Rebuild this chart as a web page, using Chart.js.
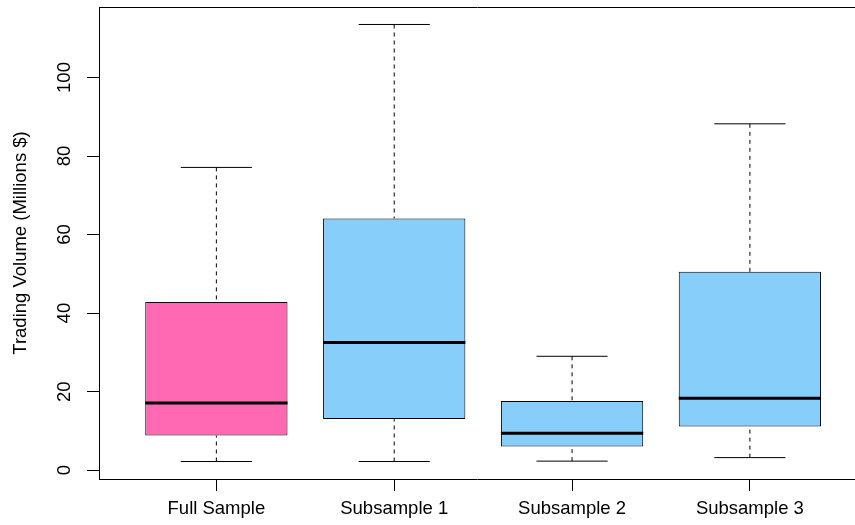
<!DOCTYPE html>
<html>
<head>
<meta charset="utf-8">
<title>Trading Volume</title>
<script src="https://cdn.jsdelivr.net/npm/chart.js@4.4.1/dist/chart.umd.min.js"></script>
<style>
  html, body { margin: 0; padding: 0; background: #fff; overflow: hidden; }
  canvas { display: block; }
</style>
</head>
<body>
<canvas id="chart" width="855" height="525"></canvas>
<script>
// Five-number summaries of trading volume (millions of dollars) per sample
const categories    = ['Full Sample', 'Subsample 1', 'Subsample 2', 'Subsample 3'];
const lowerWhisker  = [2.2, 2.2, 2.3, 3.2];
const firstQuartile = [8.8, 13.0, 6.0, 11.1];
const medians       = [17.1, 32.5, 9.4, 18.3];
const thirdQuartile = [42.8, 64.1, 17.6, 50.5];
const upperWhisker  = [77.1, 113.5, 29.0, 88.2];
const yTickValues   = [0, 20, 40, 60, 80, 100];

const BOX_HALF = 0.4;    // half box width in x units
const CAP_HALF = 0.2;    // half whisker-cap width in x units
const X_MIN = 0.34;
const X_MAX = 4.591;
const Y_MIN = -2.25;
const Y_MAX = 117.95;

const FONT = "'Liberation Sans', Arial, Helvetica, sans-serif";
const INK = '#000000';

// build plottable series from the summaries
const boxData = categories.map((c, i) => ({ x: i + 1, y: [firstQuartile[i], thirdQuartile[i]] }));

const whiskerData = [];
categories.forEach((c, i) => {
  const x = i + 1;
  whiskerData.push({ x, y: upperWhisker[i] }, { x, y: thirdQuartile[i] }, { x, y: null });
  whiskerData.push({ x, y: lowerWhisker[i] }, { x, y: firstQuartile[i] }, { x, y: null });
});

const capData = [];
categories.forEach((c, i) => {
  const x = i + 1;
  capData.push({ x: x - CAP_HALF, y: upperWhisker[i] }, { x: x + CAP_HALF, y: upperWhisker[i] }, { x, y: null });
  capData.push({ x: x - CAP_HALF, y: lowerWhisker[i] }, { x: x + CAP_HALF, y: lowerWhisker[i] }, { x, y: null });
});

const medianData = [];
categories.forEach((c, i) => {
  const x = i + 1;
  medianData.push({ x: x - BOX_HALF, y: medians[i] }, { x: x + BOX_HALF, y: medians[i] }, { x, y: null });
});

Chart.defaults.font.family = FONT;
Chart.defaults.color = INK;

const lineStyle = {
  type: 'line',
  pointRadius: 0,
  pointHoverRadius: 0,
  fill: false,
  spanGaps: false,
  tension: 0,
  borderColor: INK
};

new Chart(document.getElementById('chart'), {
  type: 'bar',
  data: {
    datasets: [
      Object.assign({}, lineStyle, { label: 'median', data: medianData, borderWidth: 3, borderCapStyle: 'butt', order: 0 }),
      {
        type: 'bar',
        label: 'box',
        data: boxData,
        backgroundColor: ['#FF69B4', '#87CEFA', '#87CEFA', '#87CEFA'],
        borderColor: INK,
        borderWidth: 1,
        borderSkipped: false,
        categoryPercentage: 1.0,
        barPercentage: 0.8,
        order: 1
      },
      Object.assign({}, lineStyle, { label: 'whisker', data: whiskerData, borderWidth: 1, borderDash: [4, 4], order: 2 }),
      Object.assign({}, lineStyle, { label: 'cap', data: capData, borderWidth: 1, order: 2 })
    ]
  },
  options: {
    responsive: false,
    animation: false,
    events: [],
    layout: { padding: 0 },
    plugins: {
      legend: { display: false },
      tooltip: { enabled: false },
      title: { display: false }
    },
    scales: {
      x: {
        type: 'linear',
        position: 'bottom',
        min: X_MIN,
        max: X_MAX,
        offset: false,
        afterBuildTicks: s => { s.ticks = categories.map((c, i) => ({ value: i + 1 })); },
        afterFit: s => { s.height = 46; s.paddingLeft = 0; s.paddingRight = 0; },
        ticks: {
          autoSkip: false,
          maxRotation: 0,
          minRotation: 0,
          padding: 7,
          color: INK,
          font: { size: 18.5 },
          callback: v => categories[Math.round(v) - 1]
        },
        grid: { offset: false, drawOnChartArea: false, drawTicks: true, tickLength: 12, color: INK, lineWidth: 1 },
        border: { display: true, color: INK, width: 1 }
      },
      xTop: {
        type: 'linear',
        position: 'top',
        min: X_MIN,
        max: X_MAX,
        offset: false,
        afterBuildTicks: s => { s.ticks = []; },
        afterFit: s => { s.height = 7; s.paddingLeft = 0; s.paddingRight = 0; },
        ticks: { display: false },
        grid: { drawOnChartArea: false, drawTicks: false },
        border: { display: true, color: INK, width: 1 }
      },
      y: {
        type: 'linear',
        position: 'left',
        min: Y_MIN,
        max: Y_MAX,
        afterBuildTicks: s => { s.ticks = yTickValues.map(v => ({ value: v })); },
        afterFit: s => { s.width = 99; s.paddingTop = 0; s.paddingBottom = 0; },
        ticks: {
          minRotation: 90,
          maxRotation: 90,
          crossAlign: 'center',
          padding: 7,
          color: INK,
          font: { size: 18.5 },
          callback: v => String(v)
        },
        grid: { drawOnChartArea: false, drawTicks: true, tickLength: 12, color: INK, lineWidth: 1 },
        border: { display: true, color: INK, width: 1 },
        title: {
          display: true,
          text: 'Trading Volume (Millions $)',
          color: INK,
          font: { size: 18.5 },
          padding: { top: 10, bottom: 0 }
        }
      }
    }
  }
});
</script>
</body>
</html>
